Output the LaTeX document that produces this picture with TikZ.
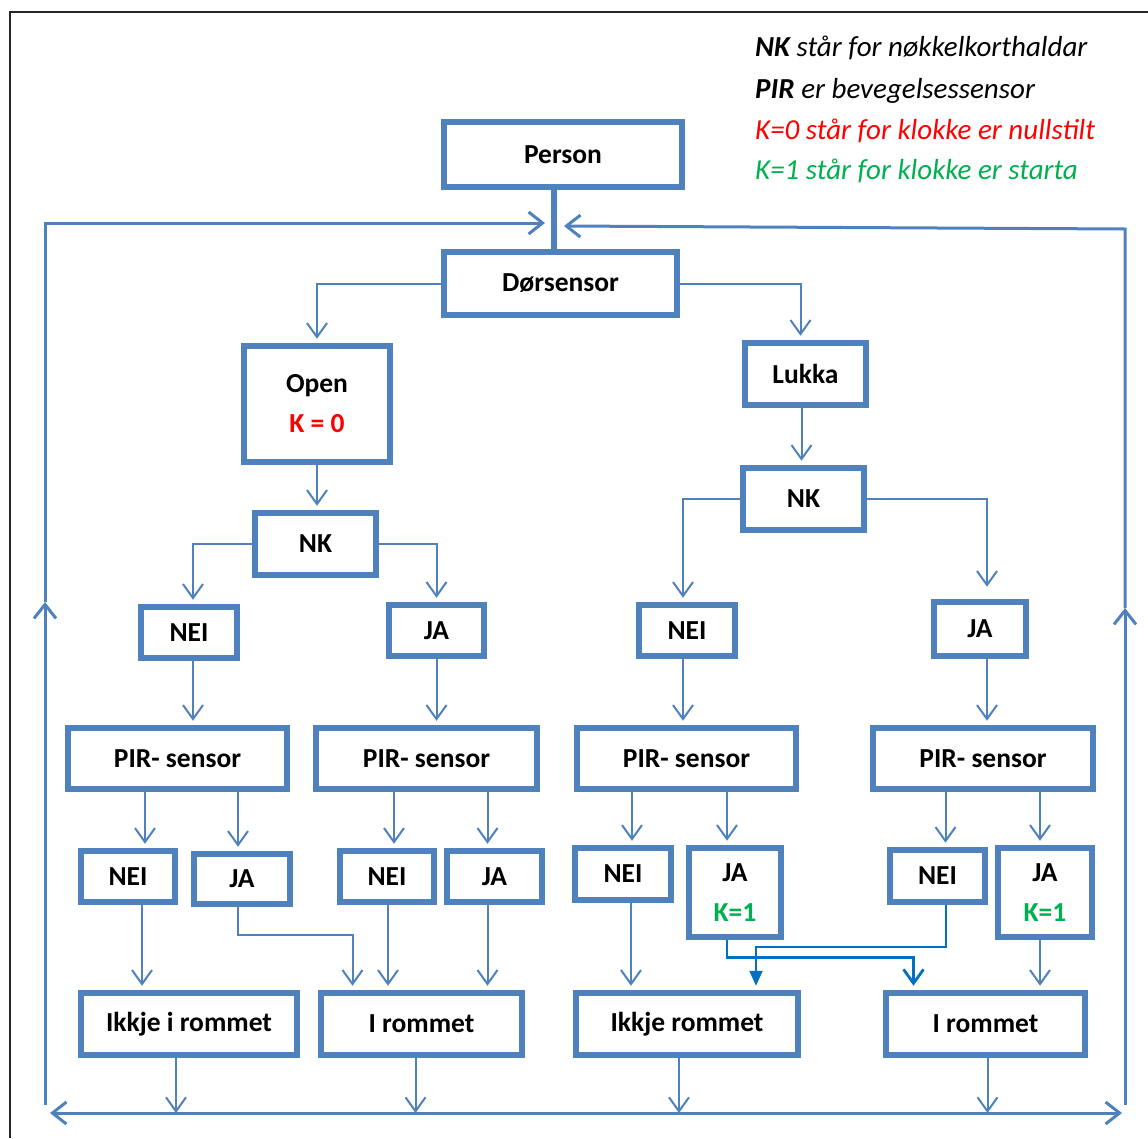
\documentclass[tikz,border=0pt]{standalone}
\usepackage{fontspec}
\setmainfont{Carlito}
\usetikzlibrary{arrows.meta}
\definecolor{boxblue}{HTML}{4F81BD}
\definecolor{darkblue}{HTML}{0070C0}
\definecolor{kred}{HTML}{FF0000}
\definecolor{kgreen}{HTML}{00B050}
\tikzset{
  box/.style={draw=boxblue, line width=6.5pt, fill=white, inner sep=0pt, align=center,
    font=\fontsize{27.5}{40}\selectfont\bfseries},
  arr/.style={draw=boxblue, line width=2pt, -{Straight Barb[length=14pt,width=20pt]}, shorten >=4pt},
  loopline/.style={draw=boxblue, line width=3pt},
  looparr/.style={loopline, -{Straight Barb[length=14pt,width=22pt]}},
  legend/.style={anchor=base west, inner sep=0pt, font=\fontsize{29}{30}\selectfont\itshape}
}

\begin{document}
\begin{tikzpicture}[x=1pt, y=-1pt]
\useasboundingbox (0,0) rectangle (1148,1138);
\draw[line width=1.5pt, black!85] (10,1138) -- (10,12) -- (1148,12);

\node[legend] (leg1) at (755,56) {\textbf{NK} står for nøkkelkorthaldar};
\node[legend] (leg2) at (755,98) {\textbf{PIR} er bevegelsessensor};
\node[legend, text=kred] (leg3) at (755,139) {K=0 står for klokke er nullstilt};
\node[legend, text=kgreen] (leg4) at (755,179) {K=1 står for klokke er starta};

\node[box, minimum width=238, minimum height=65] (person) at (563,154.5) {Person};
\node[box, minimum width=233, minimum height=63] (dor) at (560.5,283.5) {Dørsensor};
\node[box, minimum width=146, minimum height=116] (open) at (317,404) {Open\\\textcolor{kred}{K = 0}};
\node[box, minimum width=121, minimum height=62] (lukka) at (805.5,374) {Lukka};
\node[box, minimum width=121, minimum height=62] (nkl) at (315.5,544) {NK};
\node[box, minimum width=121, minimum height=62] (nkr) at (803.5,499) {NK};

\node[box, minimum width=96, minimum height=51] (nei1) at (189,632.5) {NEI};
\node[box, minimum width=95, minimum height=51] (ja1) at (436.5,630.5) {JA};
\node[box, minimum width=96, minimum height=51] (nei2) at (687,630.5) {NEI};
\node[box, minimum width=92, minimum height=54] (ja2) at (980,629) {JA};

\node[box, minimum width=219, minimum height=61] (pir1) at (177.5,758.5) {PIR- sensor};
\node[box, minimum width=221, minimum height=61] (pir2) at (426.5,758.5) {PIR- sensor};
\node[box, minimum width=219, minimum height=61] (pir3) at (686.5,758.5) {PIR- sensor};
\node[box, minimum width=220, minimum height=61] (pir4) at (983,758.5) {PIR- sensor};

\node[box, minimum width=94, minimum height=51] (neia) at (128,876.5) {NEI};
\node[box, minimum width=96, minimum height=50] (jaa) at (242,879) {JA};
\node[box, minimum width=94, minimum height=51] (neib) at (387,876.5) {NEI};
\node[box, minimum width=95, minimum height=51] (jab) at (494.5,876.5) {JA};
\node[box, minimum width=96, minimum height=52] (neic) at (623,874) {NEI};
\node[box, minimum width=92, minimum height=89] (jac) at (735,892.5) {JA\\\textcolor{kgreen}{K=1}};
\node[box, minimum width=95, minimum height=52] (neid) at (937.5,876) {NEI};
\node[box, minimum width=94, minimum height=89] (jad) at (1045,892.5) {JA\\\textcolor{kgreen}{K=1}};

\node[box, minimum width=216, minimum height=62] (ikkje1) at (189,1024) {Ikkje i rommet};
\node[box, minimum width=201, minimum height=62] (irom1) at (421.5,1024) {I rommet};
\node[box, minimum width=222, minimum height=62] (ikkje2) at (687,1024) {Ikkje rommet};
\node[box, minimum width=199, minimum height=62] (irom2) at (985.5,1024) {I rommet};

\coordinate (botl) at (50,1113);
\coordinate (botr) at (1122,1113);
\coordinate (lbot) at (45,1105);
\coordinate (lmid) at (45,602);
\coordinate (ltop) at (45,223);
\coordinate (joinl) at (545,223);
\coordinate (rbot) at (1125,1105);
\coordinate (rmid) at (1125,608);
\coordinate (rtop) at (1125,229);
\coordinate (joinr) at (564,226);

\draw[boxblue, line width=6pt] ([xshift=-9pt]person.south) -- ([xshift=-9pt]person.south |- dor.north);
\draw[looparr] (lbot) -- (lmid);
\draw[looparr] (lmid) -- (ltop) -- (joinl);
\draw[looparr] (rbot) -- (rmid);
\draw[looparr] (rmid) -- (rtop) -- (joinr);
\draw[looparr, {Straight Barb[length=14pt,width=22pt]}-{Straight Barb[length=14pt,width=22pt]}] (botl) -- (botr);

\draw[arr] (dor.west) -| (open.north);
\draw[arr] (dor.east) -| ([xshift=-5pt]lukka.north);
\draw[arr] (open.south) -- (open.south |- nkl.north);
\draw[arr] ([xshift=-4pt]lukka.south) -- ([xshift=-4pt]lukka.south |- nkr.north);

\draw[arr] (nkl.west) -| ([xshift=4pt]nei1.north);
\draw[arr] (nkl.east) -| (ja1.north);
\draw[arr] (nkr.west) -| ([xshift=-4pt]nei2.north);
\draw[arr, shorten >=12pt] (nkr.east) -| ([xshift=7pt]ja2.north);

\draw[arr] ([xshift=4pt]nei1.south) -- ([xshift=4pt]nei1.south |- pir1.north);
\draw[arr] (ja1.south) -- (ja1.south |- pir2.north);
\draw[arr] ([xshift=-4pt]nei2.south) -- ([xshift=-4pt]nei2.south |- pir3.north);
\draw[arr] ([xshift=7pt]ja2.south) -- ([xshift=7pt]ja2.south |- pir4.north);

\draw[arr] ([xshift=17pt]neia.north |- pir1.south) -- ([xshift=17pt]neia.north);
\draw[arr] ([xshift=-4pt]jaa.north |- pir1.south) -- ([xshift=-4pt]jaa.north);
\draw[arr] ([xshift=7pt]neib.north |- pir2.south) -- ([xshift=7pt]neib.north);
\draw[arr] ([xshift=-7pt]jab.north |- pir2.south) -- ([xshift=-7pt]jab.north);
\draw[arr] ([xshift=9pt]neic.north |- pir3.south) -- ([xshift=9pt]neic.north);
\draw[arr] ([xshift=-8pt]jac.north |- pir3.south) -- ([xshift=-8pt]jac.north);
\draw[arr] ([xshift=8pt]neid.north |- pir4.south) -- ([xshift=8pt]neid.north);
\draw[arr] ([xshift=-5pt]jad.north |- pir4.south) -- ([xshift=-5pt]jad.north);

\draw[arr] ([xshift=14pt]neia.south) -- ([xshift=14pt]neia.south |- ikkje1.north);
\draw[arr] ([xshift=-4pt]jaa.south) -- ++(0,28) -| ([xshift=-69pt]irom1.north);
\draw[arr] ([xshift=1pt]neib.south) -- ([xshift=1pt]neib.south |- irom1.north);
\draw[arr] ([xshift=-7pt]jab.south) -- ([xshift=-7pt]jab.south |- irom1.north);
\draw[arr] ([xshift=8pt]neic.south) -- ([xshift=8pt]neic.south |- ikkje2.north);
\draw[arr, line width=2.8pt, draw=darkblue] ([xshift=-8pt]jac.south) -- ++(0,17) -| ([xshift=-72pt]irom2.north);
\draw[draw=darkblue, line width=2pt, -{Triangle[length=15pt,width=13pt]}, shorten >=4pt] ([xshift=8pt]neid.south) -- ++(0,42) -| ([xshift=69pt]ikkje2.north);
\draw[arr] ([xshift=-5pt]jad.south) -- ([xshift=-5pt]jad.south |- irom2.north);

\draw[arr, shorten >=0pt] ([xshift=-13pt]ikkje1.south) -- ([xshift=-13pt]ikkje1.south |- botl);
\draw[arr, shorten >=0pt] ([xshift=-6pt]irom1.south) -- ([xshift=-6pt]irom1.south |- botl);
\draw[arr, shorten >=0pt] ([xshift=-8pt]ikkje2.south) -- ([xshift=-8pt]ikkje2.south |- botl);
\draw[arr, shorten >=0pt] ([xshift=2pt]irom2.south) -- ([xshift=2pt]irom2.south |- botl);
\end{tikzpicture}
\end{document}
